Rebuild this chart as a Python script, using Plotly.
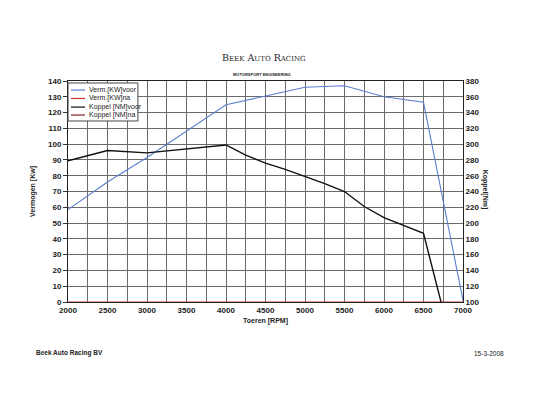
import plotly.graph_objects as go

rpm_power = [2000, 2500, 3000, 3500, 4000, 4500, 5000, 5500, 6000, 6500, 7000]
verm_voor = [58.5, 76, 91.5, 108.5, 125, 130.5, 136, 137, 130, 126.5, 1]
verm_na = [0, 0, 0, 0, 0, 0, 0, 0, 0, 0, 0]

rpm_torque = [2000, 2500, 3000, 3500, 4000, 4250, 4500, 4750, 5000, 5250, 5500,
              5750, 6000, 6250, 6500, 6750]
koppel_voor = [279, 292, 289, 294, 299, 286, 276, 268, 259, 250, 240,
               221, 207, 197, 187, 89]
koppel_na = [0, 0, 0, 0, 0, 0, 0, 0, 0, 0, 0, 0, 0, 0, 0, 0]

x_ticks = [2000, 2500, 3000, 3500, 4000, 4500, 5000, 5500, 6000, 6500, 7000]

series_names = ["Verm.[KW]voor", "Verm.[KW]na", "Koppel [NM]voor", "Koppel [NM]na"]
series_colors = ["#5b7fd0", "#d03030", "#111111", "#8a2020"]

FONT = "Liberation Sans"
tick_font = dict(family=FONT, size=8, color="#222", weight="bold")
grid_col = "#6a6a6a"

fig = go.Figure()
fig.add_trace(go.Scatter(x=rpm_power, y=verm_voor, name=series_names[0],
                         mode="lines", line=dict(color=series_colors[0], width=1.1)))
fig.add_trace(go.Scatter(x=rpm_power, y=verm_na, name=series_names[1],
                         mode="lines", line=dict(color=series_colors[1], width=1.1)))
fig.add_trace(go.Scatter(x=rpm_torque, y=koppel_voor, name=series_names[2],
                         mode="lines", line=dict(color=series_colors[2], width=1.4),
                         yaxis="y2"))
fig.add_trace(go.Scatter(x=rpm_torque, y=koppel_na, name=series_names[3],
                         mode="lines", line=dict(color=series_colors[3], width=1.1),
                         yaxis="y2"))

fig.update_layout(
    width=530, height=385,
    margin=dict(l=60, r=75, t=73, b=91),
    paper_bgcolor="white", plot_bgcolor="white",
    font=dict(family=FONT, size=8, color="#222"),
    showlegend=False,
    xaxis=dict(range=[2000, 7000], tickmode="array", tickvals=x_ticks,
               ticktext=[str(v) for v in x_ticks],
               showgrid=True, gridcolor=grid_col, gridwidth=1,
               minor=dict(dtick=250, tick0=2000, showgrid=True,
                          gridcolor=grid_col, gridwidth=1),
               showline=True, linecolor="#222", linewidth=1, mirror=True,
               ticks="", tickfont=tick_font, zeroline=False,
               title=dict(text="Toeren [RPM]",
                          font=dict(family=FONT, size=7, color="#222", weight="bold"),
                          standoff=4)),
    yaxis=dict(range=[0, 140], dtick=10, showgrid=True, gridcolor=grid_col,
               gridwidth=1, showline=True, linecolor="#222", linewidth=1,
               ticks="outside", ticklen=4, tickcolor="#333",
               tickfont=tick_font, zeroline=False,
               title=dict(text="Vermogen [Kw]",
                          font=dict(family=FONT, size=7, color="#222", weight="bold"),
                          standoff=11)),
    yaxis2=dict(range=[100, 380], dtick=20, overlaying="y", side="right",
                showgrid=False, showline=True, linecolor="#222", linewidth=1,
                ticks="", tickfont=tick_font, zeroline=False),
)

# custom compact legend (box, line samples, labels)
fig.add_shape(type="rect", xref="paper", yref="paper",
              x0=0.0, x1=0.177, y0=0.819, y1=0.991,
              fillcolor="white", line=dict(color="#444", width=1), layer="above")
legend_y = [0.959, 0.921, 0.882, 0.846]
for name, col, yy in zip(series_names, series_colors, legend_y):
    fig.add_shape(type="line", xref="paper", yref="paper",
                  x0=0.0076, x1=0.043, y0=yy, y1=yy,
                  line=dict(color=col, width=1.2), layer="above")
    fig.add_annotation(text=name, xref="paper", yref="paper",
                       x=0.048, y=yy, xanchor="left", yanchor="middle",
                       showarrow=False,
                       font=dict(family=FONT, size=7, color="#222"))

# right axis title (rotated, reading top-to-bottom)
fig.add_annotation(text="Koppel[Nm]", xref="paper", yref="paper",
                   x=1.07, y=0.51, textangle=90, showarrow=False,
                   font=dict(family=FONT, size=7, color="#222", weight="bold"))

# logo
fig.add_annotation(text="Beek Auto Racing", xref="paper", yref="paper",
                   x=0.496, y=1.14, showarrow=False,
                   font=dict(family="DejaVu Serif", size=9.5, color="#222",
                             variant="small-caps"))
fig.add_annotation(text="MOTORSPORT ENGINEERING", xref="paper", yref="paper",
                   x=0.492, y=1.05, showarrow=False,
                   font=dict(family=FONT, size=4, color="#222", weight="bold"))

# footer
fig.add_annotation(text="Beek Auto Racing BV", xref="paper", yref="paper",
                   x=-0.086, y=-0.258, xanchor="left", showarrow=False,
                   font=dict(family=FONT, size=6.5, color="#222", weight="bold"))
fig.add_annotation(text="15-3-2008", xref="paper", yref="paper",
                   x=1.109, y=-0.258, xanchor="right", showarrow=False,
                   font=dict(family=FONT, size=6.5, color="#222"))

fig.write_html("out.html")
